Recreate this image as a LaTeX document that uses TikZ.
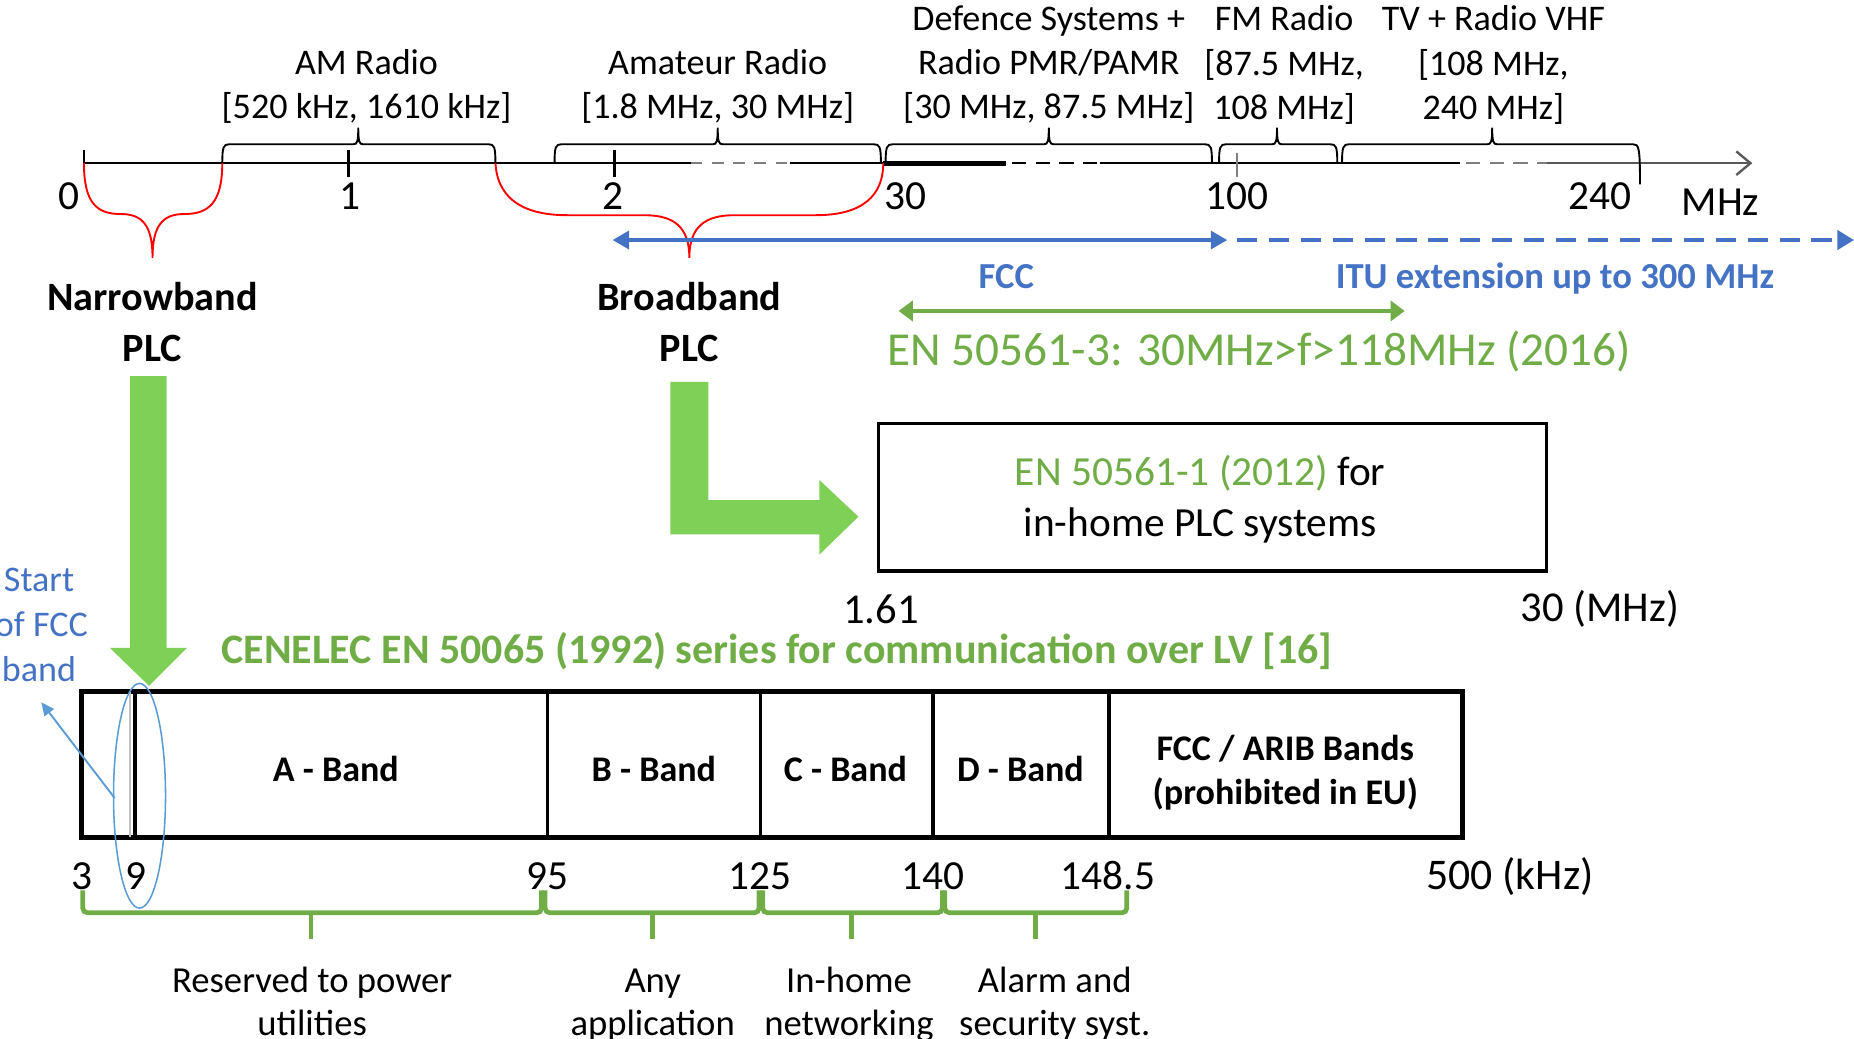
\documentclass[tikz,border=0pt]{standalone}
\usepackage{fontspec}
\setmainfont{Carlito}
\usetikzlibrary{arrows.meta}
\definecolor{blueA}{HTML}{4472C4}
\definecolor{blueB}{HTML}{5B9BD5}
\definecolor{greenT}{HTML}{70AD47}
\definecolor{greenF}{HTML}{7ED156}
\definecolor{axgrey}{HTML}{7F7F7F}
\newcommand\myfs[1]{\fontsize{#1}{#1}\selectfont}
\newcommand\topbrace[4]{%
  \draw[axline] (#1,138) .. controls (#1,124) and (#1+1,122) .. (#1+6,122) -- (#2-4,122)
     .. controls (#2-1,122) and (#2,120) .. (#2,108)
     .. controls (#2,120) and (#2+1,122) .. (#2+4,122) -- (#3-6,122)
     .. controls (#3-1,122) and (#3,124) .. (#3,#4);}
\newcommand\botbrace[3]{%
  \draw[gbrace] (#1,753) -- (#1,772) -- (#3,772) -- (#3,753);
  \draw[gbrace] (#2,772) -- (#2,794);}
\begin{document}
\begin{tikzpicture}[x=1pt,y=-1pt,
  lbl/.style={inner sep=0pt, anchor=base, font=\myfs{30.5}},
  num/.style={inner sep=0pt, anchor=base, font=\myfs{35}},
  bnum/.style={inner sep=0pt, anchor=base, font=\myfs{35}},
  plc/.style={inner sep=0pt, anchor=base, font=\myfs{34}\bfseries},
  blab/.style={inner sep=0pt, anchor=base, font=\myfs{30.5}\bfseries},
  axline/.style={line width=1.6, black},
  redbrace/.style={red, line width=1.6},
  gbrace/.style={greenT, line width=4, rounded corners=4},
  bluearrow/.style={blueA, line width=4},
]
\useasboundingbox (0,0) rectangle (1568,878);

% ---------- top axis ----------
\draw[axline] (71,138) -- (584,138);
\draw[axline, axgrey, dash pattern=on 10 off 8] (584,138) -- (668,138);
\draw[axline] (668,138) -- (747,138);
\draw[line width=4] (747,138) -- (851,138);
\draw[axline, dash pattern=on 12 off 8] (856,138) -- (930,138);
\draw[axline] (930,138) -- (1235,138);
\draw[axline, axgrey, dash pattern=on 12 off 8] (1240,138) -- (1308,138);
\draw[axline, axgrey!70!black, -{Straight Barb[length=12,width=20,line width=2]}] (1308,138) -- (1482,138);
% ticks
\draw[line width=2.4] (71,127) -- (71,141);
\draw[line width=2.4] (295,127) -- (295,150);
\draw[line width=2.4] (520,127) -- (520,150);
\draw[line width=1.6, axgrey] (1046,129) -- (1046,150);

% top braces
\topbrace{188}{303}{419}{138}
\topbrace{469}{607}{745}{138}
\topbrace{749}{887}{1025}{138}
\topbrace{1031}{1080}{1131}{138}
\topbrace{1135}{1262}{1387}{156}

% top labels
\node[lbl] (am1) at (310,63) {AM Radio};
\node[lbl] (am2) at (310,100) {[520 kHz, 1610 kHz]};
\node[lbl] (ham1) at (607,63) {Amateur Radio};
\node[lbl] (ham2) at (607,100) {[1.8 MHz, 30 MHz]};
\node[lbl] (def1) at (887,26) {Defence Systems +};
\node[lbl] (def2) at (887,63) {Radio PMR/PAMR};
\node[lbl] (def3) at (887,100) {[30 MHz, 87.5 MHz]};
\node[lbl] (fm1) at (1086,26) {FM Radio};
\node[lbl] (fm2) at (1086,64) {[87.5 MHz,};
\node[lbl] (fm3) at (1086,101) {108 MHz]};
\node[lbl] (tv1) at (1263,26) {TV + Radio VHF};
\node[lbl] (tv2) at (1263,64) {[108 MHz,};
\node[lbl] (tv3) at (1263,101) {240 MHz]};

% axis numbers
\node[num] (n0) at (58,177) {0};
\node[num] (n1) at (296,177) {1};
\node[num] (n2) at (518,177) {2};
\node[num] (n30) at (766,177) {30};
\node[num] (n100) at (1046,177) {100};
\node[num] (n240) at (1353,177) {240};
\node[num] (nmhz) at (1455,182) {MHz};

% red braces
\draw[redbrace] (71,138) .. controls (71,172) and (82,181) .. (102,181)
   .. controls (120,181) and (129,190) .. (129,218)
   .. controls (129,190) and (138,181) .. (156,181)
   .. controls (176,181) and (188,172) .. (188,138);
\draw[redbrace] (419,138) .. controls (421,170) and (445,182) .. (480,182) -- (545,182)
   .. controls (570,182) and (583,192) .. (583,218)
   .. controls (583,192) and (596,182) .. (621,182) -- (690,182)
   .. controls (730,182) and (747,165) .. (747,138);

% PLC labels
\node[plc] (nb1) at (129,263) {Narrowband};
\node[plc] (nb2) at (129,306) {PLC};
\node[plc] (bb1) at (583,263) {Broadband};
\node[plc] (bb2) at (583,306) {PLC};

% blue arrows
\coordinate (fccL) at (518,203);
\coordinate (fccR) at (1038,203);
\coordinate (ituL) at (1046,203);
\coordinate (ituR) at (1568,203);
\draw[bluearrow, {Triangle[length=14,width=15]}-{Triangle[length=14,width=15]}] (fccL) -- (fccR);
\draw[bluearrow, dash pattern=on 17 off 10, -{Triangle[length=14,width=16]}] (ituL) -- (ituR);
\node[inner sep=0pt, anchor=base, font=\myfs{31}\bfseries, text=blueA] (fcc) at (851,244) {FCC};
\node[inner sep=0pt, anchor=base, font=\myfs{31}\bfseries, text=blueA] (itu) at (1315,244) {ITU extension up to 300 MHz};

% green double arrow
\coordinate (enL) at (760,263);
\coordinate (enR) at (1188,263);
\draw[greenT, line width=4, {Triangle[length=12,width=17]}-{Triangle[length=12,width=17]}] (enL) -- (enR);
\node[inner sep=0pt, anchor=base, font=\myfs{40}, text=greenT] (en3) at (1065,309) {EN 50561-3: 30MHz>f>118MHz (2016)};

% green block arrows
\fill[greenF] (110,318) -- (141,318) -- (141,548) -- (158,548) -- (126,580) -- (93,548) -- (110,548) -- cycle;
\fill[greenF] (567,323) -- (599,323) -- (599,423) -- (693,423) -- (693,406) -- (726,437) -- (693,469) -- (693,452) -- (567,452) -- cycle;

% in-home box
\draw[line width=3] (743,358) rectangle (1308,483);
\node[inner sep=0pt, anchor=base, font=\myfs{35}] (bx1) at (1015,411) {\textcolor{greenT}{EN 50561-1 (2012)} for};
\node[inner sep=0pt, anchor=base, font=\myfs{35}] (bx2) at (1015,454) {in-home PLC systems};
\node[inner sep=0pt, anchor=base, font=\myfs{36}] (b161) at (745,527) {1.61};
\node[inner sep=0pt, anchor=base, font=\myfs{36}] (b30) at (1353,526) {30 (MHz)};

% start of FCC band
\node[lbl, text=blueA] (st1) at (33,500) {Start};
\node[lbl, text=blueA] (st2) at (35,538) {of FCC};
\node[lbl, text=blueA] (st3) at (33,576) {band};

% CENELEC title
\node[inner sep=0pt, anchor=base, font=\myfs{35.5}\bfseries, text=greenT] (cen) at (657,561) {CENELEC EN 50065 (1992) series for communication over LV [16]};

% band table
\draw[line width=4] (69,585) rectangle (1237,708);
\draw[line width=1, axgrey!50] (110,585) -- (110,708);
\draw[line width=3.5] (114,585) -- (114,708);
\draw[line width=3] (463,585) -- (463,708);
\draw[line width=3] (643,585) -- (643,708);
\draw[line width=3] (789,585) -- (789,708);
\draw[line width=3] (938,585) -- (938,708);
\node[blab] (ba) at (284,661) {A - Band};
\node[blab] (bb) at (553,661) {B - Band};
\node[blab] (bc) at (715,661) {C - Band};
\node[blab] (bd) at (863,661) {D - Band};
\node[blab] (bf1) at (1087,643) {FCC / ARIB Bands};
\node[blab] (bf2) at (1087,680) {(prohibited in EU)};

% ellipse and pointer
\draw[blueB, line width=1.3] (118,673) ellipse [x radius=22, y radius=95];
\coordinate (ellL) at (97,675);
\coordinate (stTip) at (35,594);
\draw[blueB, line width=1.6, -{Triangle[length=11,width=10]}] (ellL) -- (stTip);

% bottom numbers
\node[bnum] (k3) at (69,752) {3};
\node[bnum] (k9) at (115,752) {9};
\node[bnum] (k95) at (463,752) {95};
\node[bnum] (k125) at (643,752) {125};
\node[bnum] (k140) at (789,752) {140};
\node[bnum] (k148) at (937,752) {148.5};
\node[inner sep=0pt, anchor=base, font=\myfs{37}] (k500) at (1277,752) {500 (kHz)};

% green brackets
\botbrace{70}{263}{458}
\botbrace{461}{552}{642}
\botbrace{645}{720}{797}
\botbrace{799}{876}{953}

% bottom labels
\node[lbl, font=\myfs{31}] (u1) at (264,839) {Reserved to power};
\node[lbl, font=\myfs{31}] (u2) at (264,876) {utilities};
\node[lbl, font=\myfs{31}] (a1) at (552,839) {Any};
\node[lbl, font=\myfs{31}] (a2) at (552,876) {application};
\node[lbl, font=\myfs{31}] (h1) at (718,839) {In-home};
\node[lbl, font=\myfs{31}] (h2) at (718,876) {networking};
\node[lbl, font=\myfs{31}] (s1) at (892,839) {Alarm and};
\node[lbl, font=\myfs{31}] (s2) at (892,876) {security syst.};
\end{tikzpicture}
\end{document}
